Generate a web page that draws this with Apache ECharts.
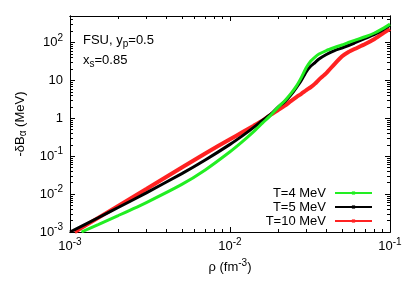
<!DOCTYPE html>
<html>
<head>
<meta charset="utf-8">
<script src="https://cdn.jsdelivr.net/npm/echarts@6/dist/echarts.min.js"></script>
<style>
html,body{margin:0;padding:0;background:#fff;}
#chart{width:415px;height:291px;}
</style>
</head>
<body>
<div id="chart"></div>
<script>
// ---- data ----
const seriesNames = ['T=4 MeV', 'T=5 MeV', 'T=10 MeV'];

const rhoGrid = [0.0015, 0.002, 0.003, 0.005, 0.007, 0.01, 0.012, 0.014, 0.016, 0.018, 0.020, 0.022, 0.024, 0.026, 0.028, 0.030, 0.032, 0.034, 0.036, 0.040, 0.045, 0.050, 0.055, 0.060, 0.070, 0.080, 0.090, 0.1];

const rhoT4 = [0.00118].concat(rhoGrid);
const bT4   = [0.001, 0.00157, 0.00271, 0.00599, 0.0180, 0.0434, 0.131, 0.246, 0.439, 0.756, 1.21, 1.97, 2.92, 4.48, 7.07, 12.2, 21.8, 32.4, 41.3, 49.6, 61.4, 73.8, 85.9, 100, 114, 142, 178, 232, 305];

const rhoT5 = [0.001].concat(rhoGrid);
const bT5   = [0.001, 0.00238, 0.00442, 0.0108, 0.0346, 0.0793, 0.205, 0.349, 0.568, 0.891, 1.28, 1.97, 2.75, 4.09, 6.45, 10.2, 17.1, 23.9, 29.6, 36.6, 48.2, 61.4, 71.5, 83.3, 97.0, 128, 163, 214, 285];

const rhoT10 = [0.00107].concat(rhoGrid);
const bT10   = [0.001, 0.00236, 0.00490, 0.0137, 0.0503, 0.118, 0.280, 0.434, 0.630, 0.880, 1.25, 1.66, 2.15, 2.84, 3.62, 4.48, 5.54, 6.65, 8.23, 10.5, 15.6, 27.0, 42.6, 56.1, 67.3, 91.3, 124, 173, 225];

const xMajorTicks = [0.001, 0.01, 0.1];
const xTickLabels = ['10^-3', '10^-2', '10^-1'];
const yMajorTicks = [0.001, 0.01, 0.1, 1, 10, 100];
const yTickLabels = ['10^-3', '10^-2', '10^-1', '1', '10', '10^2'];
const xMin = 0.001, xMax = 0.1, yMin = 0.001, yMax = 500;

// ---- helpers ----
function minorTicks(lo, hi) {
  const out = [];
  for (let e = Math.round(Math.log10(lo)); Math.pow(10, e) < hi; e++) {
    for (let k = 2; k <= 9; k++) {
      const v = parseFloat((k * Math.pow(10, e)).toPrecision(6));
      if (v <= hi) out.push(v);
    }
  }
  return out;
}
function richLabel(s) {
  const i = s.indexOf('^');
  if (i < 0) return '{b|' + s + '}';
  return '{b|' + s.slice(0, i) + '}{sup|' + s.slice(i + 1) + '}';
}
const FONT = '"Liberation Sans", Arial, Helvetica, sans-serif';
const rich = {
  b: { fontSize: 13, fontFamily: FONT, color: '#000' },
  sup: { fontSize: 10, fontFamily: FONT, color: '#000', padding: [0, 0, 9, 0] },
  sub: { fontSize: 10, fontFamily: FONT, color: '#000', padding: [7, 0, 0, 0] }
};

function makeAxis(kind, pos, ticks, labels, len, extra) {
  const isX = kind === 'x';
  const ax = {
    type: 'log',
    logBase: 10,
    min: isX ? xMin : yMin,
    max: isX ? xMax : yMax,
    position: pos,
    axisLine: { show: true, onZero: false, lineStyle: { color: '#000', width: 1 } },
    splitLine: { show: false },
    minorTick: { show: false },
    axisTick: { show: true, inside: true, length: len, customValues: ticks, lineStyle: { color: '#000', width: 1 } },
    axisLabel: { show: false }
  };
  if (labels) {
    const vals = isX ? xMajorTicks : yMajorTicks;
    const txt = isX ? xTickLabels : yTickLabels;
    ax.axisLabel = {
      show: true,
      customValues: vals,
      margin: isX ? 5 : 7,
      fontFamily: FONT,
      fontSize: 13,
      color: '#000',
      rich: rich,
      formatter: function (v) {
        let idx = 0, best = Infinity;
        vals.forEach(function (t, j) { const d = Math.abs(Math.log10(t) - Math.log10(v)); if (d < best) { best = d; idx = j; } });
        return richLabel(txt[idx]);
      }
    };
  }
  return Object.assign(ax, extra || {});
}

const xMinor = minorTicks(xMin, xMax);
const yMinor = minorTicks(yMin, yMax);

const xAxes = [
  makeAxis('x', 'bottom', xMajorTicks, true, 5, {
    name: '{b|ρ (fm}{sup|-3}{b|)}',
    nameLocation: 'middle',
    nameGap: 26,
    nameTextStyle: { rich: rich }
  }),
  makeAxis('x', 'bottom', xMinor, false, 3),
  makeAxis('x', 'top', xMajorTicks, false, 5),
  makeAxis('x', 'top', xMinor, false, 3)
];
const yAxes = [
  makeAxis('y', 'left', yMajorTicks, true, 5, {
    name: '{b|-δB}{sub|α}{b| (MeV)}',
    nameLocation: 'middle',
    nameGap: 39,
    nameRotate: 90,
    nameTextStyle: { rich: rich }
  }),
  makeAxis('y', 'left', yMinor, false, 3),
  makeAxis('y', 'right', yMajorTicks, false, 5),
  makeAxis('y', 'right', yMinor, false, 3)
];

function pairs(xs, ys) { return xs.map(function (x, i) { return [x, ys[i]]; }); }

const colors = ['#22ee22', '#000000', '#ff2222'];
const seriesData = [pairs(rhoT4, bT4), pairs(rhoT5, bT5), pairs(rhoT10, bT10)];
const widths = [3, 3, 4];
const symSizes = [3, 3, 4];

const chart = echarts.init(document.getElementById('chart'), null, { renderer: 'canvas' });
chart.setOption({
  animation: false,
  backgroundColor: '#fff',
  grid: { left: 70, right: 25, top: 16, bottom: 59, containLabel: false },
  xAxis: xAxes,
  yAxis: yAxes,
  legend: {
    orient: 'vertical',
    align: 'right',
    right: 42,
    top: 186,
    padding: 0,
    itemGap: 0,
    itemWidth: 37,
    itemHeight: 4,
    lineStyle: { width: 2 },
    textStyle: { fontFamily: FONT, fontSize: 13, color: '#000', lineHeight: 14, padding: [0, 4, 0, 0] },
    data: seriesNames
  },
  graphic: [
    { type: 'text', left: 83, top: 34, style: { text: '{b|FSU, y}{sub|p}{b|=0.5}', rich: rich } },
    { type: 'text', left: 83, top: 54, style: { text: '{b|x}{sub|s}{b|=0.85}', rich: rich } }
  ],
  series: seriesNames.map(function (n, i) {
    return {
      name: n,
      type: 'line',
      xAxisIndex: 0,
      yAxisIndex: 0,
      data: seriesData[i],
      smooth: 0.2,
      showSymbol: false,
      symbol: 'rect',
      symbolSize: symSizes[i],
      itemStyle: { color: colors[i] },
      lineStyle: { color: colors[i], width: widths[i] },
      z: 3 + (2 - i)
    };
  })
});
</script>
</body>
</html>
